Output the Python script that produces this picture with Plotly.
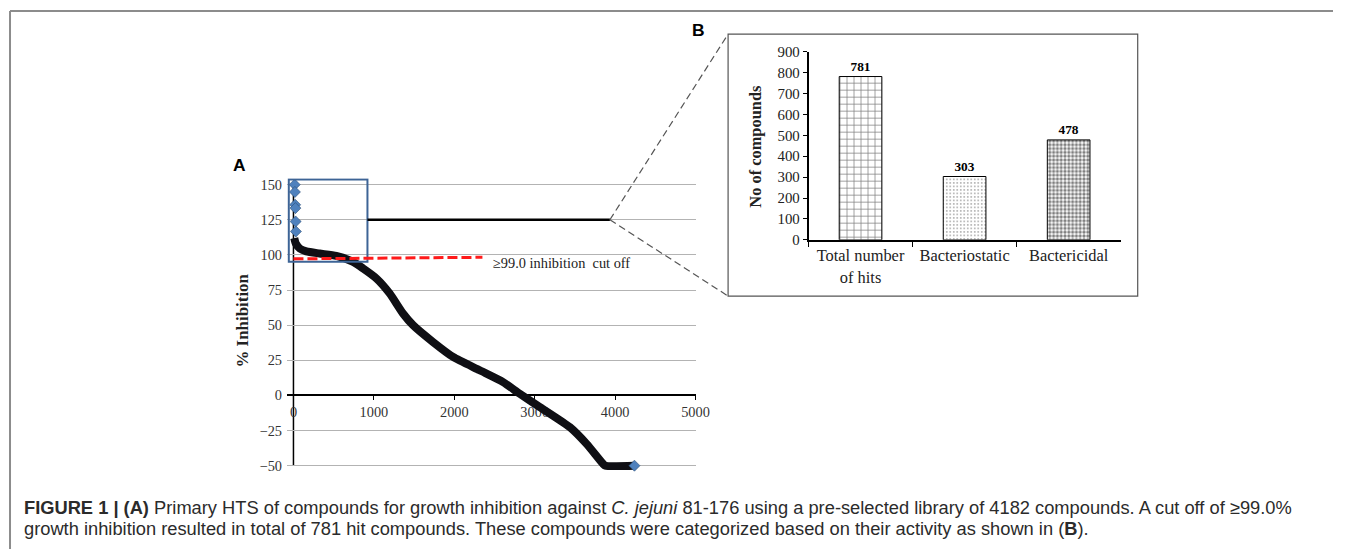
import plotly.graph_objects as go

# ---------------- data ----------------
# Panel A: ranked % inhibition curve (compound rank vs % inhibition)
compound_rank = [10, 30, 80, 160, 324, 532, 736, 862, 1030, 1196, 1362, 1487,
                 1736, 1985, 2316, 2607, 2814, 3064, 3437, 3645, 3852, 3880, 4240]
inhibition = [112, 108, 104.5, 102.5, 101, 99.3, 95.2, 90.5, 83.3, 72.6, 58.3, 50,
              38, 27.4, 17.9, 9.5, 1.2, -8.3, -22.6, -34.5, -48.8, -50, -50]
# isolated top hits drawn as diamonds
top_rank = [15, 18, 21, 24, 27, 30]
top_inhibition = [150, 144.8, 135.7, 133.3, 123.8, 116.7]
end_rank = [4240]
end_inhibition = [-50]

cutoff_x = [0, 2350]
cutoff_y = [97.2, 98.3]
zoom_box_x = [-58, 920]
zoom_box_y = [95.2, 153.6]
connector_y = 125
connector_x_end = 3935

x_ticks_A = [0, 1000, 2000, 3000, 4000, 5000]
y_ticks_A = [-50, -25, 0, 25, 50, 75, 100, 125, 150]

# Panel B: categorisation of hits
categories = ["Total number<br>of hits", "Bacteriostatic", "Bactericidal"]
counts = [781, 303, 478]
y_ticks_B = [0, 100, 200, 300, 400, 500, 600, 700, 800, 900]

# ---------------- layout helpers ----------------
W, H = 1347, 557
# the captured page shows the paper at screen x 1..1332 and y 9..548
SX0, SXW = 1.0, 1331.0
SY0, SYH = 9.0, 539.0
FS = 1.025  # font compensation for the capture scaling

def px_x(px):
    return (px - SX0) / SXW
def px_y(py):
    return 1 - (py - SY0) / SYH

A_XR = [-80, 5000]
A_XD = [px_x(287.6), px_x(695.5)]
A_YR = [-54, 154.5]
A_YD = [px_y(470.6), px_y(178.7)]

def a_paper(xv, yv):
    fx = A_XD[0] + (xv - A_XR[0]) / (A_XR[1] - A_XR[0]) * (A_XD[1] - A_XD[0])
    fy = A_YD[0] + (yv - A_YR[0]) / (A_YR[1] - A_YR[0]) * (A_YD[1] - A_YD[0])
    return fx, fy

SERIF = "Liberation Serif"
SANS = "Liberation Sans"

fig = go.Figure()

# curve
fig.add_trace(go.Scatter(
    x=compound_rank, y=inhibition, mode="lines",
    line=dict(color="#0f0f14", width=8, shape="spline", smoothing=0.6),
    xaxis="x", yaxis="y", hoverinfo="skip", showlegend=False))
fig.add_trace(go.Scatter(
    x=top_rank + end_rank, y=top_inhibition + end_inhibition, mode="markers",
    marker=dict(symbol="diamond", size=8.5, color="#4f81bd",
                line=dict(color="#2c4d75", width=0.6)),
    xaxis="x", yaxis="y", hoverinfo="skip", showlegend=False, cliponaxis=False))

# bars
fig.add_trace(go.Bar(
    x=categories, y=counts, width=0.41,
    marker=dict(color="white", line=dict(color="black", width=1),
                pattern=dict(shape=["+", ".", "."], size=[7, 3.5, 3.8],
                             solidity=[0.2, 0.18, 0.55],
                             fgcolor=["black", "#444", "black"])),
    text=[str(c) for c in counts], textposition="outside",
    textfont=dict(family=SERIF, size=13 * FS, color="black", weight="bold"),
    cliponaxis=False,
    xaxis="x2", yaxis="y2", hoverinfo="skip", showlegend=False))

shapes = []
# y axis line of panel A (x = 0)
shapes.append(dict(type="line", xref="x", yref="y", x0=0, x1=0, y0=-50, y1=150,
                   line=dict(color="black", width=1.5), layer="below"))
# zoom box
shapes.append(dict(type="rect", xref="x", yref="y",
                   x0=zoom_box_x[0], x1=zoom_box_x[1], y0=zoom_box_y[0], y1=zoom_box_y[1],
                   line=dict(color="#3d6496", width=2), layer="above"))
# connector solid line
shapes.append(dict(type="line", xref="x", yref="y",
                   x0=zoom_box_x[1], x1=connector_x_end, y0=connector_y, y1=connector_y,
                   line=dict(color="black", width=2.5)))
# cut-off line
shapes.append(dict(type="line", xref="x", yref="y",
                   x0=cutoff_x[0], x1=cutoff_x[1], y0=cutoff_y[0], y1=cutoff_y[1],
                   line=dict(color="#ff1a1a", width=3, dash="10px,4px"), layer="above"))

# inset box B
B_BOX = [px_x(728), px_y(296), px_x(1137), px_y(35)]
shapes.append(dict(type="rect", xref="paper", yref="paper",
                   x0=B_BOX[0], y0=B_BOX[1], x1=B_BOX[2], y1=B_BOX[3],
                   line=dict(color="#555555", width=1.2)))
# dashed connectors to inset
sx, sy = a_paper(connector_x_end, connector_y)
for corner_y in (B_BOX[3], B_BOX[1]):
    shapes.append(dict(type="line", xref="paper", yref="paper",
                       x0=sx, y0=sy, x1=B_BOX[0], y1=corner_y,
                       line=dict(color="#555555", width=1.2, dash="7px,4px")))
# figure frame
shapes.append(dict(type="line", xref="paper", yref="paper",
                   x0=px_x(11), x1=1.0, y0=px_y(12), y1=px_y(12),
                   line=dict(color="#8c8c8c", width=2)))
shapes.append(dict(type="line", xref="paper", yref="paper",
                   x0=px_x(11), x1=px_x(11), y0=px_y(12), y1=0,
                   line=dict(color="#8c8c8c", width=2)))

def lbl(text, x, y, size, family, weight="normal", color="#222", angle=0, xanchor="center"):
    return dict(text=text, x=x, y=y, xref="paper", yref="paper", xanchor=xanchor,
                yanchor="middle", textangle=angle, showarrow=False,
                font=dict(family=family, size=size * FS, color=color, weight=weight))

annotations = [
    lbl("A", px_x(240), px_y(165), 17, SANS, "bold", "black"),
    lbl("B", px_x(698), px_y(31), 17, SANS, "bold", "black"),
    lbl("% Inhibition", px_x(243), px_y(320), 16.5, SERIF, "bold", angle=-90),
    lbl("No of compounds", px_x(755), px_y(147), 16, SERIF, "bold", angle=-90),
    dict(text="\u226599.0 inhibition  cut off", x=2462, y=94.2, xref="x", yref="y",
         xanchor="left", yanchor="middle", showarrow=False,
         font=dict(family=SERIF, size=14 * FS, color="#222")),
    lbl("<b>FIGURE 1 | (A)</b> Primary HTS of compounds for growth inhibition against "
        "<i>C. jejuni</i> 81-176 using a pre-selected library of 4182 compounds. "
        "A cut off of \u226599.0%", px_x(23), px_y(507), 17.85, SANS, color="#2b2b2b",
        xanchor="left"),
    lbl("growth inhibition resulted in total of 781 hit compounds. These compounds "
        "were categorized based on their activity as shown in (<b>B</b>).",
        px_x(23), px_y(528), 17.85, SANS, color="#2b2b2b", xanchor="left"),
]

x0_pos = a_paper(0, 0)[1]

fig.update_layout(
    width=W, height=H, margin=dict(l=0, r=0, t=0, b=0),
    paper_bgcolor="white", plot_bgcolor="rgba(0,0,0,0)",
    showlegend=False, shapes=shapes, annotations=annotations,
    xaxis=dict(domain=A_XD, range=A_XR, anchor="free", position=x0_pos,
               tickvals=x_ticks_A, showgrid=False, zeroline=False,
               showline=True, linecolor="black", linewidth=1.5,
               ticks="outside", ticklen=4, tickcolor="black",
               tickfont=dict(family=SERIF, size=14 * FS, color="#333"),
               layer="below traces"),
    yaxis=dict(domain=A_YD, range=A_YR, anchor="x", tickvals=y_ticks_A,
               showgrid=True, gridcolor="#b3b3b3", gridwidth=1,
               zeroline=False, showline=False, ticks="",
               ticklabelstandoff=4,
               tickfont=dict(family=SERIF, size=14 * FS, color="#333")),
    xaxis2=dict(domain=[px_x(808.3), px_x(1120)], anchor="y2", type="category",
                showline=True, linecolor="black", linewidth=1.5,
                ticks="outside", tickson="boundaries", ticklen=5, tickcolor="black",
                showgrid=False, zeroline=False,
                tickfont=dict(family=SERIF, size=16 * FS, color="#222")),
    yaxis2=dict(domain=[px_y(240), px_y(52.5)], anchor="x2", range=[0, 900],
                tickvals=y_ticks_B, showline=True, linecolor="black", linewidth=1.5,
                ticks="outside", ticklen=4, tickcolor="black",
                showgrid=False, zeroline=False,
                tickfont=dict(family=SERIF, size=14.5 * FS, color="#222")),
)

post = ("document.body.style.margin='0';document.body.style.padding='0';"
        "document.body.style.overflow='hidden';")

fig.write_html("out.html", post_script=post, config={"displayModeBar": False})
